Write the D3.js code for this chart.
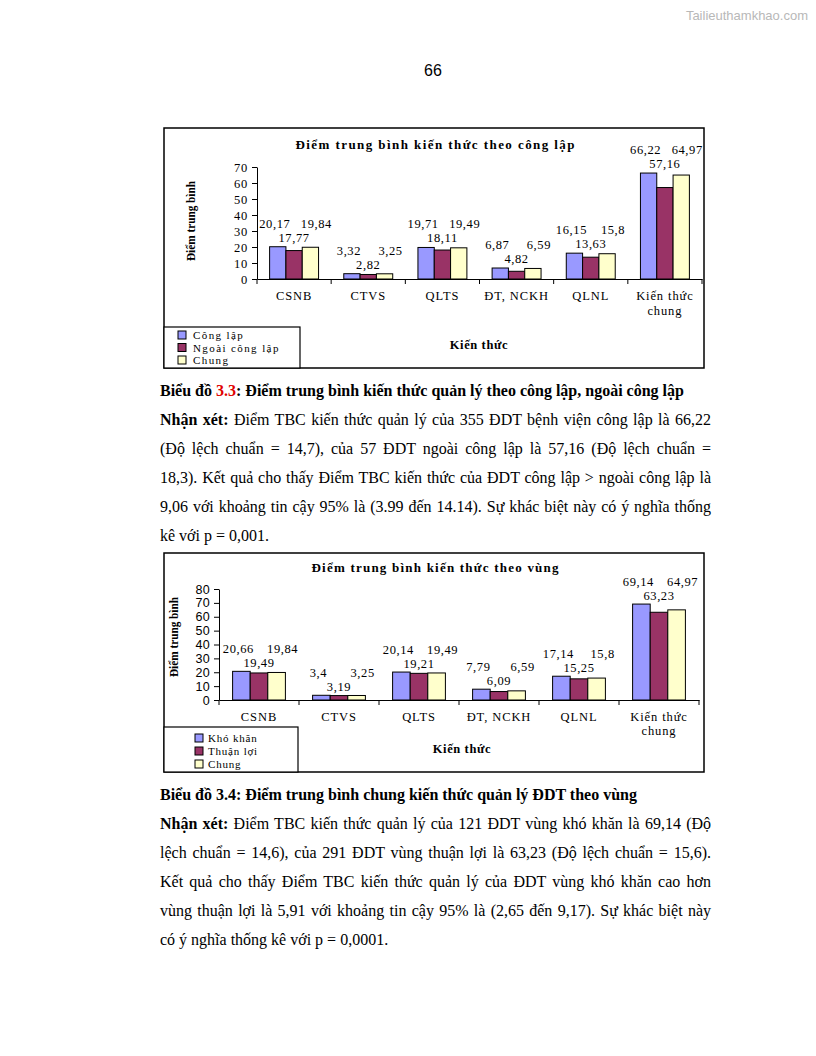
<!DOCTYPE html>
<html><head><meta charset="utf-8">
<script src="https://cdn.jsdelivr.net/npm/d3@7"></script>
<style>
body{margin:0;background:#fff;}
#page{position:relative;width:816px;height:1056px;background:#fff;overflow:hidden;}
svg{position:absolute;left:0;top:0;}
.para{position:absolute;left:160px;width:551px;font-family:"Liberation Serif","Times New Roman",serif;font-size:16px;color:#000;}
.jl{text-align:justify;text-align-last:justify;white-space:nowrap;height:29px;line-height:18px;}
.ll{text-align:left;white-space:nowrap;height:29px;line-height:18px;}
b{font-weight:bold;}
</style></head>
<body><div id="page"><svg id="svg" width="816" height="1056"></svg></div>
<script>
// ---- data ----
const categories = ["CSNB", "CTVS", "QLTS", "ĐT, NCKH", "QLNL", "Kiến thức chung"];
const congLap = [20.17, 3.32, 19.71, 6.87, 16.15, 66.22];
const ngoaiCongLap = [17.77, 2.82, 18.11, 4.82, 13.63, 57.16];
const chungA = [19.84, 3.25, 19.49, 6.59, 15.8, 64.97];
const khoKhan = [20.66, 3.4, 20.14, 7.79, 17.14, 69.14];
const thuanLoi = [19.49, 3.19, 19.21, 6.09, 15.25, 63.23];
const chungB = [19.84, 3.25, 19.49, 6.59, 15.8, 64.97];
const seriesNames1 = ["Công lập", "Ngoài công lập", "Chung"];
const seriesNames2 = ["Khó khăn", "Thuận lợi", "Chung"];
const yTicks1 = [0, 10, 20, 30, 40, 50, 60, 70];
const yTicks2 = [0, 10, 20, 30, 40, 50, 60, 70, 80];
const title1 = "Điểm trung bình kiến thức theo công lập";
const title2 = "Điểm trung bình kiến thức theo vùng";
const yTitle = "Điểm trung bình";
const xTitle = "Kiến thức";

const colors = ["#9999FF", "#993366", "#FFFFCC"];
const serif = "Liberation Serif, Times New Roman, serif";
const svg = d3.select("#svg");
svg.append("rect").attr("width",816).attr("height",1056).attr("fill","#fff");

// watermark & page number
svg.append("text").attr("x",808).attr("y",20).attr("text-anchor","end")
  .attr("font-family","Liberation Sans, Arial, sans-serif").attr("font-size",13)
  .attr("fill","#b8b8b8").text("Tailieuthamkhao.com");
svg.append("text").attr("x",433).attr("y",76).attr("text-anchor","middle")
  .attr("font-family","Liberation Sans, Arial, sans-serif").attr("font-size",16)
  .attr("fill","#000").text("66");

const fmt = v => String(v).replace(".", ",");

function drawChart(o){
  const g = svg.append("g");
  // frame
  g.append("rect").attr("x",o.frame[0]).attr("y",o.frame[1])
    .attr("width",o.frame[2]-o.frame[0]).attr("height",o.frame[3]-o.frame[1])
    .attr("fill","#fff").attr("stroke","#000").attr("stroke-width",1.5);
  const x0 = d3.scaleBand().domain(o.categories).range([o.plot.x0, o.plot.x1]).padding(0);
  const bw = x0.bandwidth();
  const x1 = d3.scaleBand().domain([0,1,2]).range([bw*0.17, bw*0.83]).padding(0);
  const y = d3.scaleLinear().domain([0, d3.max(o.yTicks)]).range([o.plot.y0, o.plot.y1]);

  // title
  g.append("text").attr("x",435).attr("y",o.titleY).attr("text-anchor","middle")
    .attr("font-family",serif).attr("font-weight","bold")
    .attr("font-size",13).attr("textLength",o.titleLen).attr("lengthAdjust","spacing").text(o.title);

  // y axis
  const ya = d3.axisLeft(y).tickValues(o.yTicks).tickSize(5).tickPadding(4).tickSizeOuter(0);
  const yg = g.append("g").attr("transform",`translate(${o.plot.x0},0)`).call(ya);
  yg.selectAll("text").attr("font-family",o.yFont).attr("font-size",o.yFontSize)
    .attr("letter-spacing",o.yLS).attr("fill","#000");
  yg.selectAll("line,path").attr("stroke","#000");

  // x axis
  const xa = d3.axisBottom(x0).tickSize(0).tickFormat("");
  const xg = g.append("g").attr("transform",`translate(0,${o.plot.y0})`).call(xa);
  xg.select("path").attr("stroke","#000");
  const bounds = o.categories.map(c=> x0(c)).concat([o.plot.x1]);
  xg.selectAll("line.b").data(bounds).join("line").attr("class","b")
    .attr("x1",d=>d).attr("x2",d=>d).attr("y1",0).attr("y2",5).attr("stroke","#000");

  // category labels
  o.categories.forEach(c=>{
    const words = c.split(" ");
    const lines = c.length > 10 ? [words.slice(0,-1).join(" "), words[words.length-1]] : [c];
    const t = g.append("text").attr("text-anchor","middle")
      .attr("font-family",serif).attr("font-size",12.5).attr("letter-spacing",0.9);
    lines.forEach((ln,k)=> t.append("tspan").attr("x", x0(c)+bw/2).attr("y", o.catY + k*o.catLH).text(ln));
  });

  // bars
  o.series.forEach((s,si)=>{
    g.selectAll(null).data(s).join("rect")
      .attr("x",(d,i)=> x0(o.categories[i]) + x1(si))
      .attr("width", x1.bandwidth())
      .attr("y", d=> y(d)).attr("height", d=> y(0)-y(d))
      .attr("fill", colors[si]).attr("stroke","#000").attr("stroke-width",1);
  });

  // data labels
  const shift = [-3, 0, 6];
  o.categories.forEach((c,i)=>{
    const rowY = y(Math.max(o.series[0][i], o.series[2][i])) - o.lblOff;
    [0,1,2].forEach(si=>{
      const ly = si===1 ? rowY + o.midOff : rowY;
      g.append("text").attr("x", x0(c)+x1(si)+x1.bandwidth()/2 + shift[si]).attr("y", ly+4)
        .attr("text-anchor","middle").attr("font-family",serif)
        .attr("font-size",12.5).attr("letter-spacing",0.6).text(fmt(o.series[si][i]));
    });
  });

  // y title
  g.append("text").attr("transform",`translate(${o.yTitleX},${o.yTitleCY}) rotate(-90)`)
    .attr("text-anchor","middle").attr("font-family",serif)
    .attr("font-weight","bold").attr("font-size",11.5).attr("textLength",o.yTitleLen)
    .attr("lengthAdjust","spacingAndGlyphs").text(yTitle);

  // x title
  g.append("text").attr("x",o.xTitle[0]).attr("y",o.xTitle[1]).attr("text-anchor","middle")
    .attr("font-family",serif).attr("font-weight","bold")
    .attr("font-size",12.5).attr("letter-spacing",0.6).text(xTitle);

  // legend
  const L = o.legend;
  g.append("rect").attr("x",L.box[0]).attr("y",L.box[1]).attr("width",L.box[2]-L.box[0])
    .attr("height",L.box[3]-L.box[1]).attr("fill","#fff").attr("stroke","#000").attr("stroke-width",1.2);
  o.names.forEach((n,k)=>{
    const cy = L.y0 + k*L.dy;
    g.append("rect").attr("x",L.sx).attr("y",cy-4).attr("width",8).attr("height",8)
      .attr("fill",colors[k]).attr("stroke","#000").attr("stroke-width",1);
    g.append("text").attr("x",L.tx).attr("y",cy+4).attr("font-family",serif)
      .attr("font-size",L.fs).attr("letter-spacing",L.ls).text(n);
  });
}

drawChart({
  frame:[164,128,704,368], plot:{x0:257,x1:702,y0:279,y1:167},
  categories, series:[congLap, ngoaiCongLap, chungA], names:seriesNames1, yTicks:yTicks1,
  title:title1, titleY:149, titleLen:279,
  yFont:serif, yFontSize:12.5, yLS:0.8,
  catY:300, catLH:15, lblOff:23, midOff:14,
  yTitleX:195, yTitleCY:221, yTitleLen:80,
  xTitle:[479,349],
  legend:{box:[164,327,300,368], sx:178, tx:193, y0:335, dy:12.5, fs:11, ls:1.4}
});
drawChart({
  frame:[164,553,704,772], plot:{x0:219,x1:699,y0:700,y1:589},
  categories, series:[khoKhan, thuanLoi, chungB], names:seriesNames2, yTicks:yTicks2,
  title:title2, titleY:572, titleLen:247,
  yFont:"Liberation Sans, Arial, sans-serif", yFontSize:12.5, yLS:0.3,
  catY:721, catLH:14, lblOff:22, midOff:14,
  yTitleX:178, yTitleCY:637, yTitleLen:80,
  xTitle:[462,753],
  legend:{box:[164,727,298,772], sx:195, tx:208, y0:738, dy:13, fs:11, ls:0.8}
});
</script>
<div class="para" style="top:382px">
  <div class="ll"><b>Biểu đồ <span style="color:#e00000">3.3</span>: Điểm trung bình kiến thức quản lý theo công lập, ngoài công lập</b></div>
  <div class="jl"><b>Nhận xét:</b> Điểm TBC kiến thức quản lý của 355 ĐDT bệnh viện công lập là 66,22</div>
  <div class="jl">(Độ lệch chuẩn = 14,7), của 57 ĐDT ngoài công lập là 57,16 (Độ lệch chuẩn =</div>
  <div class="jl">18,3). Kết quả cho thấy Điểm TBC kiến thức của ĐDT công lập &gt; ngoài công lập là</div>
  <div class="jl">9,06 với khoảng tin cậy 95% là (3.99 đến 14.14). Sự khác biệt này có ý nghĩa thống</div>
  <div class="ll">kê với p = 0,001.</div>
</div>
<div class="para" style="top:786px">
  <div class="ll"><b>Biểu đồ 3.4: Điểm trung bình chung kiến thức quản lý ĐDT theo vùng</b></div>
  <div class="jl"><b>Nhận xét:</b> Điểm TBC kiến thức quản lý của 121 ĐDT vùng khó khăn là 69,14 (Độ</div>
  <div class="jl">lệch chuẩn = 14,6), của 291 ĐDT vùng thuận lợi là 63,23 (Độ lệch chuẩn = 15,6).</div>
  <div class="jl">Kết quả cho thấy Điểm TBC kiến thức quản lý của ĐDT vùng khó khăn cao hơn</div>
  <div class="jl">vùng thuận lợi là 5,91 với khoảng tin cậy 95% là (2,65 đến 9,17). Sự khác biệt này</div>
  <div class="ll">có ý nghĩa thống kê với p = 0,0001.</div>
</div>
</body></html>
